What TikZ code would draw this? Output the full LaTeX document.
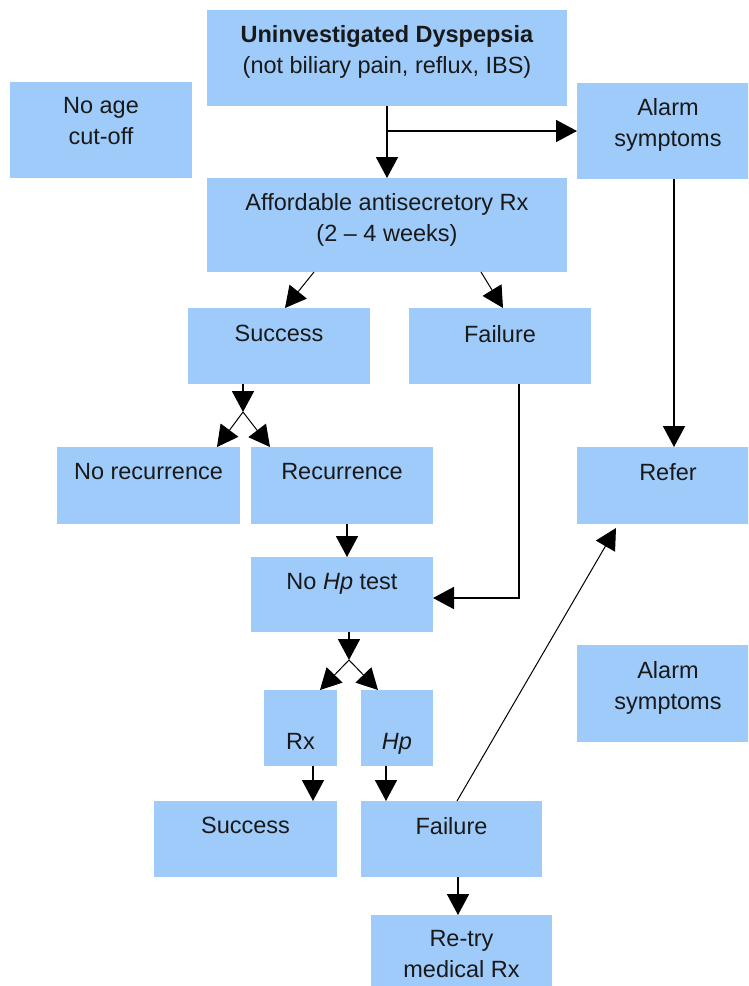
\documentclass[tikz,border=0pt]{standalone}
\usepackage{fontspec}
\setmainfont{Liberation Sans}
\usetikzlibrary{arrows.meta,calc}
\definecolor{boxblue}{RGB}{158,203,250}
\tikzset{
  box/.style={fill=boxblue, draw=none, inner sep=0pt, outer sep=0pt, anchor=north west},
  txt/.style={font=\fontsize{23.5}{31}\selectfont, align=center, inner sep=0pt, anchor=north, text=black!90},
  conn/.style={line width=1.8pt, -{Triangle[width=22pt,length=21pt]}},
  thinconn/.style={line width=1pt, -{Triangle[width=22pt,length=21pt]}},
}
\begin{document}
\begin{tikzpicture}[x=1pt,y=-1pt]
\clip (0,0) rectangle (748,986);
\fill[white] (0,0) rectangle (748,986);
% boxes
\node[box, minimum width=360pt, minimum height=96pt] (top) at (207,10) {};
\node[box, minimum width=182pt, minimum height=96pt] (noage) at (10,82) {};
\node[box, minimum width=182pt, minimum height=96pt] (alarm1) at (577,83) {};
\node[box, minimum width=360pt, minimum height=94pt] (aff) at (207,178) {};
\node[box, minimum width=182pt, minimum height=76pt] (succ1) at (188,308) {};
\node[box, minimum width=182pt, minimum height=76pt] (fail1) at (409,308) {};
\node[box, minimum width=183pt, minimum height=77pt] (norec) at (57,447) {};
\node[box, minimum width=182pt, minimum height=77pt] (rec) at (251,447) {};
\node[box, minimum width=182pt, minimum height=77pt] (refer) at (577,447) {};
\node[box, minimum width=182pt, minimum height=75pt] (nohp) at (251,557) {};
\node[box, minimum width=182pt, minimum height=97pt] (alarm2) at (577,645) {};
\node[box, minimum width=73pt, minimum height=76pt] (rx) at (264,690) {};
\node[box, minimum width=72pt, minimum height=76pt] (hp) at (361,690) {};
\node[box, minimum width=183pt, minimum height=76pt] (succ2) at (154,801) {};
\node[box, minimum width=181pt, minimum height=76pt] (fail2) at (361,801) {};
\node[box, minimum width=181pt, minimum height=76pt] (retry) at (371,915) {};
% texts
\node[txt] (ttop) at ($(top.north)+(0,15)$) {\textbf{Uninvestigated Dyspepsia}\\(not biliary pain, reflux, IBS)};
\node[txt] (tnoage) at ($(noage.north)+(0,15)$) {No age\\cut-off};
\node[txt] (talarm1) at ($(alarm1.north)+(0,15)$) {Alarm\\symptoms};
\node[txt] (taff) at ($(aff.north)+(0,15)$) {Affordable antisecretory Rx\\(2 -- 4 weeks)};
\node[txt] (tsucc1) at ($(succ1.north)+(0,17)$) {Success};
\node[txt] (tfail1) at ($(fail1.north)+(0,17)$) {Failure};
\node[txt] (tnorec) at ($(norec.north)+(0,16)$) {No recurrence};
\node[txt] (trec) at ($(rec.north)+(0,16)$) {Recurrence};
\node[txt] (trefer) at ($(refer.north)+(0,16)$) {Refer};
\node[txt] (tnohp) at ($(nohp.north)+(0,16)$) {No \textit{Hp} test};
\node[txt] (talarm2) at ($(alarm2.north)+(0,16)$) {Alarm\\symptoms};
\node[txt] (trx) at ($(rx.north)+(0,43)$) {Rx};
\node[txt] (thp) at ($(hp.north)+(0,43)$) {\textit{Hp}};
\node[txt] (tsucc2) at ($(succ2.north)+(0,16)$) {Success};
\node[txt] (tfail2) at ($(fail2.north)+(0,16)$) {Failure};
\node[txt] (tretry) at ($(retry.north)+(0,15)$) {Re-try\\medical Rx};
% connectors
\draw[conn] (top.south) -- (aff.north);
\coordinate (j1) at ($(top.south)+(0,25)$);
\draw[conn] (j1) -- (j1 -| alarm1.west);
\draw[thinconn] ($(aff.south west)+(107,0)$) -- ($(succ1.north west)+(97,0)$);
\draw[thinconn] ($(aff.south west)+(274,0)$) -- ($(fail1.north west)+(94,0)$);
\coordinate (j2) at ($(succ1.south west)+(55,28)$);
\draw[conn] ($(succ1.south west)+(55,0)$) -- (j2);
\draw[thinconn] (j2) -- ($(norec.north east)+(-23,0)$);
\draw[thinconn] (j2) -- ($(rec.north west)+(19,0)$);
\draw[conn] ($(fail1.south west)+(110,0)$) |- ($(nohp.east)+(0,3.5)$);
\draw[conn] ($(rec.south west)+(96,0)$) -- ($(nohp.north west)+(96,0)$);
\draw[conn] ($(alarm1.south west)+(97,0)$) -- ($(refer.north west)+(97,0)$);
\coordinate (j3) at ($(nohp.south west)+(98,28)$);
\draw[conn] ($(nohp.south west)+(98,0)$) -- (j3);
\draw[thinconn] (j3) -- ($(rx.north east)+(-17,0)$);
\draw[thinconn] (j3) -- ($(hp.north west)+(17,0)$);
\draw[conn] ($(rx.south west)+(49,0)$) -- ($(succ2.north west)+(159,0)$);
\draw[conn] ($(hp.south west)+(25,0)$) -- ($(fail2.north west)+(25,0)$);
\draw[conn] ($(fail2.south west)+(97,0)$) -- ($(retry.north west)+(87,0)$);
\draw[thinconn] ($(fail2.north west)+(96,0)$) -- ($(refer.south west)+(39,4)$);
\end{tikzpicture}
\end{document}
